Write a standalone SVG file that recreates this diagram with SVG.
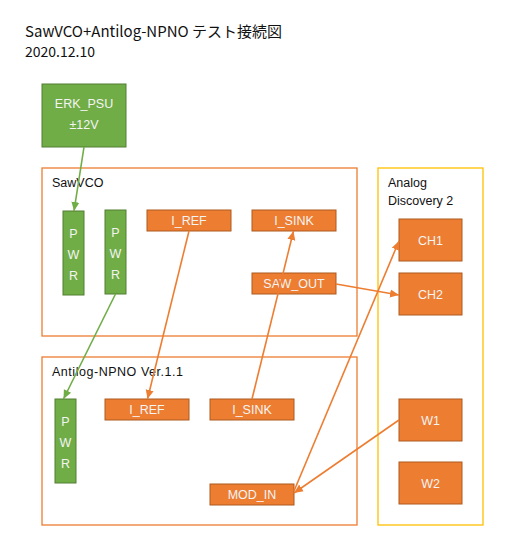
<svg xmlns="http://www.w3.org/2000/svg" width="505" height="547" viewBox="0 0 505 547">
<style>
.frame{fill:#fff;stroke:#ED7D31;stroke-width:1.3}
.frameY{fill:#fff;stroke:#FFC000;stroke-width:1.3}
.on{fill:#ED7D31;stroke:#AE5A21;stroke-width:1}
.gn{fill:#70AD47;stroke:#507E32;stroke-width:1}
.lbl{font-family:"Liberation Sans","Noto Sans CJK JP",sans-serif;font-size:12.5px;fill:#111}
.nt{font-family:"Liberation Sans",sans-serif;font-size:12.5px;fill:#F4F4F4;text-anchor:middle}
.title{font-family:"Noto Sans CJK JP",sans-serif;font-size:14px;fill:#111}
.co{stroke:#ED7D31;stroke-width:1.6;fill:none}
.cg{stroke:#70AD47;stroke-width:1.6;fill:none}
</style>
<defs>
<marker id="ao" markerUnits="userSpaceOnUse" markerWidth="10" markerHeight="10" viewBox="0 0 10 10" refX="9" refY="5" orient="auto"><path d="M0,1 L9,5 L0,9 Z" fill="#ED7D31"/></marker>
<marker id="ag" markerUnits="userSpaceOnUse" markerWidth="10" markerHeight="10" viewBox="0 0 10 10" refX="9" refY="5" orient="auto"><path d="M0,1 L9,5 L0,9 Z" fill="#70AD47"/></marker>
</defs>
<rect width="505" height="547" fill="#fff"/>
<g id="title">
<text class="title" x="25" y="37" style="font-size:15px">SawVCO+Antilog-NPNO テスト接続図</text>
<text class="title" x="25" y="57">2020.12.10</text>
</g>
<g id="sawvco-frame"><rect class="frame" x="42" y="168" width="315" height="168"/><text class="lbl" x="52" y="187">SawVCO</text></g>
<g id="antilog-frame"><rect class="frame" x="42" y="357" width="315" height="168"/><text class="lbl" x="52" y="376" textLength="131">Antilog-NPNO Ver.1.1</text></g>
<g id="ad2-frame"><rect class="frameY" x="378" y="168" width="105" height="357"/><text class="lbl" x="388" y="187">Analog</text><text class="lbl" x="388" y="205">Discovery 2</text></g>
<g id="erk-psu"><rect class="gn" x="42" y="84" width="84" height="63"/><text class="nt" x="84" y="108">ERK_PSU</text><text class="nt" x="84" y="129">±12V</text></g>
<g id="pwr1"><rect class="gn" x="63" y="211" width="21" height="84"/><text class="nt" x="73.5" y="238">P</text><text class="nt" x="73.5" y="259">W</text><text class="nt" x="73.5" y="280">R</text></g>
<g id="pwr2"><rect class="gn" x="105" y="210" width="21" height="84"/><text class="nt" x="115.5" y="237">P</text><text class="nt" x="115.5" y="258">W</text><text class="nt" x="115.5" y="279">R</text></g>
<g id="iref1"><rect class="on" x="147" y="210" width="84" height="21"/><text class="nt" x="189" y="225">I_REF</text></g>
<g id="isink1"><rect class="on" x="252" y="210" width="84" height="21"/><text class="nt" x="294" y="225">I_SINK</text></g>
<g id="sawout"><rect class="on" x="252" y="273" width="84" height="21"/><text class="nt" x="294" y="288">SAW_OUT</text></g>
<g id="pwr3"><rect class="gn" x="55" y="399" width="21" height="84"/><text class="nt" x="65.5" y="426">P</text><text class="nt" x="65.5" y="447">W</text><text class="nt" x="65.5" y="468">R</text></g>
<g id="iref2"><rect class="on" x="105" y="399" width="84" height="21"/><text class="nt" x="147" y="414">I_REF</text></g>
<g id="isink2"><rect class="on" x="210" y="399" width="84" height="21"/><text class="nt" x="252" y="414">I_SINK</text></g>
<g id="modin"><rect class="on" x="210" y="484" width="84" height="21"/><text class="nt" x="252" y="499">MOD_IN</text></g>
<g id="ch1"><rect class="on" x="399" y="219" width="63" height="42"/><text class="nt" x="430.5" y="245">CH1</text></g>
<g id="ch2"><rect class="on" x="399" y="273" width="63" height="42"/><text class="nt" x="430.5" y="299">CH2</text></g>
<g id="w1"><rect class="on" x="399" y="399" width="63" height="42"/><text class="nt" x="430.5" y="425">W1</text></g>
<g id="w2"><rect class="on" x="399" y="462" width="63" height="42"/><text class="nt" x="430.5" y="488">W2</text></g>
<g id="connectors">
<line class="cg" x1="84" y1="147" x2="74" y2="211" marker-end="url(#ag)"/>
<line class="cg" x1="115.5" y1="294" x2="63.5" y2="399" marker-end="url(#ag)"/>
<line class="co" x1="189" y1="231" x2="147.5" y2="399" marker-end="url(#ao)"/>
<line class="co" x1="252" y1="399" x2="293.5" y2="231" marker-end="url(#ao)"/>
<line class="co" x1="336" y1="284" x2="399" y2="295" marker-end="url(#ao)"/>
<line class="co" x1="294" y1="491" x2="399" y2="241" marker-end="url(#ao)"/>
<line class="co" x1="399" y1="420" x2="294" y2="493" marker-end="url(#ao)"/>
</g>
</svg>
